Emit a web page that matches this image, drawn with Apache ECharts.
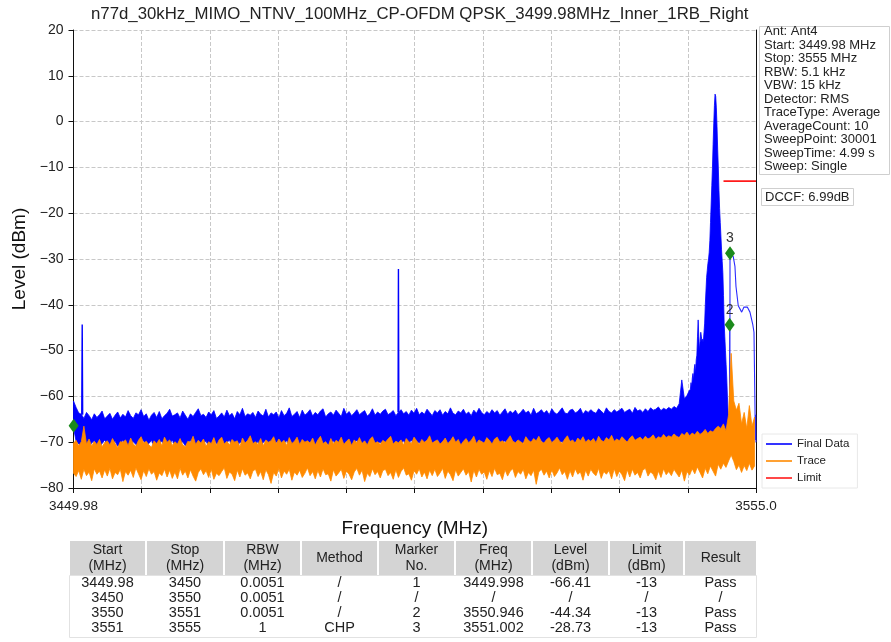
<!DOCTYPE html>
<html><head><meta charset="utf-8">
<script src="https://cdn.jsdelivr.net/npm/echarts@6/dist/echarts.min.js"></script>
<style>html,body{margin:0;padding:0;background:#fff;}#c{width:891px;height:642px;}</style>
</head><body><div id="c"></div>
<script>
// ---------------- data ----------------
const titleText = 'n77d_30kHz_MIMO_NTNV_100MHz_CP-OFDM QPSK_3499.98MHz_Inner_1RB_Right';
const xMin = 3449.98, xMax = 3555.0, xInterval = 10.502;
const xEndLabels = ['3449.98', '3555.0'];
const yMin = -80, yMax = 20, yInterval = 10;

// Final Data (blue): upper / lower edge of the dense trace, noise floor part
const floorStart = 3449.98, floorStep = 0.4;
const floorUpper = [
 -61.0,-62.4,-63.6,-63.9,-64.8,-63.5,-64.2,-65.1,-63.8,-64.6,
 -64.0,-63.2,-64.9,-64.3,-63.7,-65.0,-64.1,-63.4,-64.7,-63.9,
 -64.5,-63.1,-64.2,-64.8,-63.6,-64.0,-62.9,-64.4,-63.8,-65.2,
 -64.1,-63.5,-64.6,-63.3,-64.9,-64.2,-63.7,-62.8,-64.3,-64.0,
 -63.6,-64.7,-63.2,-64.1,-65.0,-63.8,-64.4,-63.5,-62.7,-64.2,
 -63.9,-64.6,-63.4,-64.0,-63.1,-64.8,-64.3,-63.6,-64.5,-63.0,
 -64.2,-63.7,-64.9,-63.3,-64.0,-62.6,-64.4,-63.8,-64.1,-63.5,
 -64.6,-63.2,-63.9,-64.3,-62.8,-64.5,-63.6,-64.0,-63.4,-64.7,
 -63.1,-64.2,-63.7,-62.5,-64.4,-63.9,-63.3,-64.6,-63.0,-64.1,
 -63.6,-62.9,-64.3,-63.5,-64.0,-63.2,-62.7,-64.5,-63.8,-63.4,
 -64.1,-63.0,-63.7,-64.4,-62.6,-63.9,-63.3,-64.2,-63.6,-62.9,
 -64.0,-63.5,-63.1,-64.3,-63.8,-62.7,-64.1,-63.4,-63.9,-63.2,
 -62.8,-64.0,-63.6,-63.1,-64.2,-63.5,-62.9,-63.8,-63.3,-64.1,
 -63.0,-63.7,-62.6,-64.0,-63.4,-63.9,-62.8,-63.5,-64.2,-63.1,
 -63.6,-62.9,-64.1,-63.3,-63.8,-62.5,-63.7,-64.0,-63.2,-63.6,
 -62.8,-63.9,-63.4,-64.2,-63.0,-63.7,-62.6,-63.5,-64.0,-63.3,
 -63.8,-62.9,-63.6,-63.1,-64.1,-63.4,-62.7,-63.9,-63.2,-63.7,
 -63.0,-64.0,-63.5,-62.8,-63.6,-63.2,-64.1,-62.6,-63.8,-63.4,
 -62.9,-63.7,-63.1,-64.0,-62.7,-63.5,-63.9,-63.2,-62.5,-63.6,
 -63.8,-63.0,-62.8,-63.6,-63.3,-62.6,-63.9,-63.1,-63.5,-62.9,
 -63.4,-63.7,-62.7,-63.2,-63.8,-62.5,-63.3,-63.6,-62.9,-63.4,
 -63.0,-62.6,-63.5,-63.1,-62.8,-63.7,-62.4,-63.2,-62.9,-63.5,
 -62.7,-63.3,-62.5,-63.0,-62.8,-62.3,-63.1,-62.6,-62.9,-62.4,
 -62.8,-62.2,-62.6,-61.6,-56.4,-60.5,-59.8,-58.6
];
const floorLower = [
 -66.8,-69.8,-70.4,-70.9,-69.6,-70.7,-71.2,-70.1,-69.7,-70.8,
 -71.0,-70.3,-69.5,-70.6,-71.3,-70.0,-69.8,-70.9,-70.4,-69.6,
 -70.7,-71.1,-70.2,-69.9,-70.5,-71.4,-70.1,-69.7,-70.8,-70.3,
 -69.6,-70.9,-71.2,-70.0,-69.8,-70.6,-71.0,-70.4,-69.5,-70.7,
 -71.3,-70.2,-69.9,-70.8,-70.1,-69.6,-71.1,-70.5,-69.8,-70.9,
 -70.3,-69.7,-71.0,-70.6,-69.9,-70.2,-71.4,-69.8,-70.5,-70.0,
 -69.6,-70.8,-70.3,-71.2,-69.9,-70.4,-70.7,-69.7,-71.0,-70.1,
 -70.5,-69.8,-71.1,-70.0,-69.6,-70.9,-70.2,-71.3,-69.9,-70.4,
 -70.8,-70.1,-69.7,-70.6,-71.0,-69.8,-70.3,-70.9,-69.6,-70.5,
 -71.2,-69.9,-70.4,-70.7,-69.5,-70.2,-71.0,-69.8,-70.6,-70.1,
 -69.7,-70.8,-70.3,-69.6,-71.1,-70.0,-69.9,-70.7,-70.4,-69.5,
 -70.9,-70.2,-69.8,-71.2,-70.1,-69.7,-70.6,-70.3,-69.9,-70.8,
 -70.0,-69.6,-70.5,-71.0,-69.8,-70.4,-70.1,-69.7,-70.9,-70.2,
 -69.5,-70.7,-70.3,-69.9,-71.1,-70.0,-69.6,-70.8,-70.2,-69.8,
 -70.6,-71.0,-69.7,-70.3,-70.9,-69.5,-70.4,-70.1,-69.8,-70.7,
 -70.2,-69.6,-70.8,-70.0,-69.9,-71.2,-70.3,-69.7,-70.5,-70.1,
 -69.8,-70.6,-70.2,-69.5,-70.9,-70.0,-69.7,-70.4,-71.0,-69.9,
 -70.3,-69.8,-70.7,-70.1,-69.6,-70.5,-70.0,-69.9,-70.8,-70.2,
 -69.7,-70.4,-69.9,-70.6,-70.1,-69.5,-70.3,-70.0,-69.8,-70.7,
 -70.2,-69.6,-70.5,-69.9,-70.0,-70.8,-69.7,-70.3,-69.5,-70.1,
 -69.9,-70.4,-69.6,-70.2,-69.8,-70.6,-69.5,-70.0,-70.3,-69.7,
 -70.1,-69.5,-70.0,-69.8,-70.4,-69.6,-69.9,-70.2,-69.4,-69.8,
 -69.6,-70.0,-69.3,-69.7,-69.9,-69.4,-69.8,-69.2,-69.6,-69.5,
 -69.3,-69.0,-69.4,-68.8,-69.2,-68.6,-69.0,-68.7
];
// Final Data (blue): carrier region, finer steps
const peakStart = 3544.9, peakStep = 0.1;
const peakUpper = [
 -58.5,-57,-58,-56,-55,-56.5,-54,-53,-55,-52,
 -51,-47,-43.3,-47,-50,-48,-46,-47,-48,-47.5,
 -48,-46,-44,-40,-37,-34,-32.5,-31,-30,-28.5,
 -26,-22,-18,-14,-10,-5,-0.5,3.5,6.0,5.5,
 3,-1,-6,-10,-15,-19,-22,-25,-28,-30.5,
 -33,-38,-44,-47,-50,-53,-56,-60,-63,-65,
 -67
];
const peakLower = [
 -68.5,-69.2,-68.0,-69.6,-68.4,-69.0,-68.7,-69.4,-68.2,-69.1,
 -68.8,-69.5,-68.3,-69.0,-68.6,-69.3,-68.1,-68.9,-69.4,-68.5,
 -69.0,-68.2,-68.8,-69.3,-68.4,-69.1,-68.7,-68.0,-69.2,-68.6,
 -68.9,-68.3,-69.0,-68.5,-68.8,-68.1,-69.1,-68.4,-68.7,-68.2,
 -68.9,-68.5,-69.2,-68.3,-68.8,-69.0,-68.4,-68.9,-68.6,-69.3,
 -68.7,-69.1,-68.5,-69.4,-68.8,-69.2,-69.6,-69.0,-69.8,-69.4,
 -70.0
];
// Final Data (blue): narrow spurs
const spurFreq  = [3451.25, 3451.32, 3451.39, null, 3499.92, 3499.98, 3500.04];
const spurLevel = [-64.0, -44.3, -64.0, null, -63.5, -32.2, -63.5];
// Final Data (blue): marker 2 spike and CHP segment (RBW 1 MHz)
const chpFreq  = [3550.92,3550.946,3550.975,3551.002,3551.50,3551.76,3551.92,3552.27,3552.80,3553.15,3553.66,3554.07,3554.49,3554.69,3554.85,3554.90,3554.95,3555.0];
const chpLevel = [-69.5,-44.34,-69.5,-28.73,-29.5,-31.6,-36.0,-40.2,-41.6,-40.5,-40.5,-41.6,-44.2,-46.0,-63.0,-69.5,-64.0,-70.0];

// Trace (orange): upper / lower edge
const traceStart = 3449.98, traceStep = 0.4;
const traceUpper = [
 -70.2,-69.6,-70.8,-69.9,-66.5,-70.4,-69.3,-70.9,-69.8,-70.5,
 -69.4,-71.0,-70.1,-69.7,-70.6,-69.2,-70.3,-71.2,-69.9,-70.0,
 -69.5,-70.7,-69.1,-70.4,-70.9,-69.6,-68.8,-70.2,-69.8,-70.6,
 -71.1,-69.7,-70.3,-69.4,-70.8,-68.9,-70.0,-69.5,-70.7,-69.9,
 -70.4,-69.2,-70.6,-71.0,-69.8,-70.1,-68.7,-70.5,-69.6,-70.2,
 -69.3,-70.9,-69.9,-70.3,-69.0,-70.7,-69.5,-68.9,-70.4,-69.8,
 -70.6,-69.4,-70.0,-69.7,-71.0,-69.1,-70.2,-69.6,-68.6,-70.3,
 -69.9,-70.5,-69.2,-70.8,-69.5,-70.0,-69.7,-68.8,-70.4,-69.3,
 -70.1,-69.6,-70.7,-69.0,-70.3,-69.8,-68.9,-70.5,-69.4,-70.0,
 -69.7,-70.2,-69.1,-70.6,-69.5,-68.7,-70.3,-69.9,-70.8,-69.2,
 -70.4,-69.6,-70.0,-68.9,-70.5,-69.8,-69.3,-70.7,-69.5,-70.1,
 -69.0,-70.3,-69.7,-70.6,-69.4,-68.8,-70.2,-69.9,-70.5,-69.6,
 -70.0,-69.3,-68.7,-70.4,-69.8,-70.1,-69.5,-70.6,-69.2,-69.9,
 -70.3,-68.9,-69.7,-70.5,-69.4,-70.0,-69.6,-68.6,-70.2,-69.8,
 -69.5,-70.4,-69.9,-69.1,-70.3,-69.7,-68.8,-70.0,-69.4,-70.6,
 -69.8,-69.2,-70.1,-69.6,-68.7,-70.3,-69.5,-69.9,-70.2,-69.0,
 -69.6,-70.4,-69.3,-68.9,-70.0,-69.7,-70.2,-69.4,-68.6,-69.8,
 -70.1,-69.5,-69.9,-70.3,-68.8,-69.6,-70.0,-69.2,-69.7,-68.7,
 -69.9,-70.2,-69.4,-69.0,-70.1,-69.6,-68.9,-69.8,-70.3,-69.3,
 -68.6,-69.9,-69.5,-70.2,-69.1,-69.7,-68.8,-70.0,-69.4,-69.8,
 -69.2,-70.1,-68.7,-69.6,-69.9,-69.0,-69.5,-68.5,-69.8,-69.3,
 -69.7,-68.8,-69.4,-70.0,-69.1,-68.6,-69.6,-69.2,-68.9,-69.5,
 -68.7,-69.3,-69.0,-68.4,-69.4,-68.8,-69.1,-68.3,-69.0,-68.6,
 -68.9,-68.2,-68.7,-69.0,-68.1,-68.5,-67.8,-68.6,-68.0,-68.4,
 -67.6,-68.3,-67.9,-67.2,-68.1,-67.5,-67.8,-67.0,-66.5,-67.0,
 -66.0,-67.5,-64.0,-50.6,-61.0,-63.0,-61.5,-66.0,-63.5,-67.0,
 -62.0,-66.5,-64.5
];
const traceLower = [
 -76.8,-77.5,-76.2,-78.1,-75.9,-77.3,-76.5,-78.4,-75.8,-77.0,
 -76.3,-77.8,-76.0,-77.4,-75.7,-78.0,-76.6,-77.1,-75.9,-78.6,
 -76.4,-77.2,-76.1,-77.7,-75.6,-76.9,-78.2,-76.2,-77.5,-75.8,
 -77.0,-76.4,-78.3,-76.7,-77.3,-75.9,-77.6,-76.1,-77.9,-76.5,
 -78.0,-75.7,-77.2,-76.3,-77.8,-76.0,-77.4,-78.5,-76.6,-75.8,
 -77.1,-76.2,-77.7,-75.9,-78.1,-76.8,-77.3,-76.4,-75.6,-77.9,
 -76.5,-77.0,-78.4,-76.1,-77.6,-75.8,-77.2,-76.7,-78.0,-76.3,
 -75.9,-77.5,-76.4,-78.2,-76.0,-77.1,-79.0,-76.6,-77.4,-75.7,
 -77.8,-76.3,-77.0,-75.9,-78.3,-76.5,-77.2,-76.1,-77.7,-76.8,
 -75.6,-77.3,-76.4,-78.0,-76.2,-77.6,-75.8,-77.1,-76.9,-78.5,
 -76.0,-77.4,-76.7,-75.9,-77.9,-76.3,-77.0,-78.2,-76.5,-75.7,
 -77.2,-76.1,-78.6,-76.8,-77.5,-75.8,-77.1,-76.4,-77.8,-76.2,
 -75.9,-77.3,-76.6,-78.1,-76.0,-77.7,-76.4,-75.6,-77.2,-76.9,
 -78.3,-76.2,-77.0,-75.8,-77.6,-76.5,-78.0,-76.1,-77.3,-75.9,
 -77.5,-76.7,-75.7,-77.9,-76.3,-77.1,-78.4,-76.0,-77.4,-76.6,
 -75.8,-77.2,-76.4,-78.7,-76.1,-77.6,-75.9,-77.0,-76.5,-78.1,
 -76.2,-77.5,-75.7,-77.1,-76.8,-78.2,-76.0,-77.4,-76.3,-75.8,
 -77.7,-76.4,-77.0,-75.9,-78.0,-76.6,-77.3,-76.1,-79.2,-76.5,
 -75.9,-77.2,-76.3,-77.8,-76.0,-77.5,-76.7,-75.6,-77.1,-76.4,
 -78.1,-76.2,-77.6,-75.8,-77.0,-76.5,-78.3,-76.1,-77.4,-75.9,
 -76.8,-77.3,-75.7,-77.9,-76.4,-77.0,-76.2,-78.0,-75.8,-77.5,
 -76.3,-77.1,-78.4,-76.0,-77.6,-75.9,-77.2,-76.6,-77.8,-76.1,
 -75.7,-77.4,-76.5,-77.0,-78.2,-76.3,-77.7,-75.8,-77.1,-76.4,
 -77.3,-75.9,-76.8,-77.6,-76.1,-78.5,-76.4,-77.2,-75.8,-76.9,
 -75.4,-76.6,-77.8,-75.7,-76.9,-75.2,-76.3,-77.4,-74.8,-75.9,
 -74.6,-75.5,-74.1,-72.8,-74.2,-76.0,-75.0,-76.6,-75.1,-76.2,
 -74.6,-76.1,-75.2
];

// Limit (red)
const limitFreq = [3550.0, 3555.0];
const limitLevel = [-13, -13];

// Markers
const markerNo = [1, 2, 3];
const markerFreq = [3449.998, 3550.946, 3551.002];
const markerLevel = [-66.41, -44.34, -28.73];
const markerLabel = ['', '2', '3'];

// Info box
const infoLines = ['Ant: Ant4','Start: 3449.98 MHz','Stop: 3555 MHz','RBW: 5.1 kHz','VBW: 15 kHz','Detector: RMS','TraceType: Average','AverageCount: 10','SweepPoint: 30001','SweepTime: 4.99 s','Sweep: Single'];
const dccfText = 'DCCF: 6.99dB';

// Table
const tableHeader = ['Start\n(MHz)','Stop\n(MHz)','RBW\n(MHz)','Method','Marker\nNo.','Freq\n(MHz)','Level\n(dBm)','Limit\n(dBm)','Result'];
const tableRows = [
 ['3449.98','3450','0.0051','/','1','3449.998','-66.41','-13','Pass'],
 ['3450','3550','0.0051','/','/','/','/','/','/'],
 ['3550','3551','0.0051','/','2','3550.946','-44.34','-13','Pass'],
 ['3551','3555','1','CHP','3','3551.002','-28.73','-13','Pass']
];

// ---------------- build ----------------
const FONT = '"Liberation Sans", Arial, Helvetica, sans-serif';
const BLUE = '#0000ff', ORANGE = '#ff8a00', RED = '#ff1a1a', GREEN = '#1b8a1b';
const r4 = v => Math.round(v * 10000) / 10000;
const blueX = [], blueLo = [], blueHi = [];
floorUpper.forEach((v, i) => { blueX.push(r4(floorStart + i * floorStep)); blueHi.push(v); blueLo.push(floorLower[i]); });
peakUpper.forEach((v, i) => { blueX.push(r4(peakStart + i * peakStep)); blueHi.push(v); blueLo.push(peakLower[i]); });
const traceX = traceUpper.map((v, i) => r4(traceStart + i * traceStep));
const spurData = spurFreq.map((f, i) => f === null ? '-' : [f, spurLevel[i]]);
const chpData = chpFreq.map((f, i) => [f, chpLevel[i]]);
const limitData = limitFreq.map((f, i) => [f, limitLevel[i]]);
const markers = markerFreq.map((f, i) => ({ value: [f, markerLevel[i]], name: String(markerNo[i]), label: { formatter: markerLabel[i] } }));

// dense trace drawn as the band between its upper and lower edges, through the axis scales
function bandSeries(name, xs, hi, lo, color, z) {
  return {
    type: 'custom', name, coordinateSystem: 'cartesian2d', z, silent: true, animation: false,
    itemStyle: { color },
    encode: { x: 0, y: 1 },
    data: [[xs[0], hi[0]]],
    renderItem: (params, api) => {
      const pts = [];
      for (let i = 0; i < xs.length; i++) pts.push(api.coord([xs[i], hi[i]]));
      for (let i = xs.length - 1; i >= 0; i--) pts.push(api.coord([xs[i], lo[i]]));
      return { type: 'polygon', shape: { points: pts }, style: { fill: color, stroke: color, lineWidth: 0.8 } };
    }
  };
}

const g = [];
g.push({ type: 'rect', shape: { x: 759.5, y: 26.5, width: 130, height: 148 }, style: { fill: '#fff', stroke: '#cfcfcf', lineWidth: 1 } });
g.push({ type: 'text', x: 764, y: 25, style: { text: infoLines.join('\n'), fill: '#222', font: '13px ' + FONT, lineHeight: 13.5, align: 'left', verticalAlign: 'top' } });
g.push({ type: 'rect', shape: { x: 761.5, y: 188.5, width: 92, height: 17 }, style: { fill: '#fff', stroke: '#cfcfcf', lineWidth: 1 } });
g.push({ type: 'text', x: 765, y: 197, style: { text: dccfText, fill: '#222', font: '13px ' + FONT, align: 'left', verticalAlign: 'middle' } });

const colEdges = [69, 146, 224, 301, 378, 455, 532, 609, 684, 757];
g.push({ type: 'rect', shape: { x: 69.5, y: 575.5, width: 687, height: 62 }, style: { fill: '#fff', stroke: '#e2e2e2', lineWidth: 1 } });
for (let i = 0; i < tableHeader.length; i++) {
  const x0 = colEdges[i], x1 = colEdges[i + 1], cx = (x0 + x1) / 2;
  g.push({ type: 'rect', shape: { x: x0 + 1, y: 541, width: x1 - x0 - 2, height: 34 }, style: { fill: '#d4d4d4' } });
  g.push({ type: 'text', x: cx, y: 558, style: { text: tableHeader[i], fill: '#222', font: '14px ' + FONT, lineHeight: 16, align: 'center', verticalAlign: 'middle' } });
  tableRows.forEach((row, r) => {
    g.push({ type: 'text', x: cx, y: 583 + r * 15, style: { text: row[i], fill: '#222', font: '14.5px ' + FONT, align: 'center', verticalAlign: 'middle' } });
  });
}

const chart = echarts.init(document.getElementById('c'), null, { renderer: 'canvas' });
const base = { type: 'line', symbol: 'none', showSymbol: false, sampling: null, animation: false, silent: true, emphasis: { disabled: true }, clip: true, connectNulls: false };
chart.setOption({
  animation: false,
  backgroundColor: '#fff',
  textStyle: { fontFamily: FONT },
  title: { text: titleText, left: 414.75, top: 1, textAlign: 'center', textStyle: { fontSize: 16.8, fontWeight: 'normal', color: '#222', fontFamily: FONT } },
  grid: { left: 73.5, right: 135, top: 30, bottom: 154, containLabel: false },
  legend: {
    data: [
      { name: 'Final Data', itemStyle: { color: BLUE } },
      { name: 'Trace', itemStyle: { color: ORANGE } },
      { name: 'Limit', itemStyle: { color: RED } }
    ],
    orient: 'vertical', left: 762, top: 434, icon: 'rect',
    itemWidth: 26, itemHeight: 1.6, itemGap: 5, padding: [4, 8, 4, 4],
    backgroundColor: '#fff', borderColor: '#e8e8e8', borderWidth: 1,
    textStyle: { fontSize: 11.5, color: '#222', fontFamily: FONT }, selectedMode: false
  },
  xAxis: {
    type: 'value', min: xMin, max: xMax, interval: xInterval,
    name: 'Frequency (MHz)', nameLocation: 'middle', nameGap: 31,
    nameTextStyle: { fontSize: 19, color: '#111', fontFamily: FONT },
    axisLine: { show: true, onZero: false, lineStyle: { color: '#111', width: 1 } },
    axisTick: { show: true, inside: false, length: 5, lineStyle: { color: '#111' } },
    axisLabel: {
      fontSize: 13.5, color: '#222', margin: 11, showMinLabel: true, showMaxLabel: true, hideOverlap: false,
      formatter: v => Math.abs(v - xMin) < 1e-3 ? xEndLabels[0] : (Math.abs(v - xMax) < 1e-3 ? xEndLabels[1] : '')
    },
    splitLine: { show: true, lineStyle: { color: '#c8c8c8', type: [4, 2], width: 1 } }
  },
  yAxis: [{
    type: 'value', min: yMin, max: yMax, interval: yInterval,
    name: 'Level (dBm)', nameLocation: 'middle', nameGap: 42,
    nameTextStyle: { fontSize: 19, color: '#111', fontFamily: FONT },
    axisLine: { show: true, onZero: false, lineStyle: { color: '#111', width: 1 } },
    axisTick: { show: true, inside: false, length: 5, lineStyle: { color: '#111' } },
    axisLabel: { fontSize: 14, color: '#222', margin: 10, formatter: v => v < 0 ? '\u2212' + Math.abs(v) : String(v) },
    splitLine: { show: true, lineStyle: { color: '#c8c8c8', type: [4, 2], width: 1 } }
  }, {
    type: 'value', min: yMin, max: yMax, interval: yInterval, position: 'right',
    axisLine: { show: true, onZero: false, lineStyle: { color: '#111', width: 1 } },
    axisTick: { show: false }, axisLabel: { show: false }, splitLine: { show: false }
  }],
  series: [
    bandSeries('Final Data', blueX, blueHi, blueLo, BLUE, 2),
    Object.assign({}, base, { name: 'Final Data', data: spurData, z: 2, lineStyle: { color: BLUE, width: 1.4 }, itemStyle: { color: BLUE } }),
    Object.assign({}, base, { name: 'Final Data', data: chpData, z: 2, lineStyle: { color: '#2a2aff', width: 1.1 }, itemStyle: { color: BLUE } }),
    bandSeries('Trace', traceX, traceUpper, traceLower, ORANGE, 3),
    Object.assign({}, base, { name: 'Limit', data: limitData, z: 4, lineStyle: { color: RED, width: 1.6 }, itemStyle: { color: RED } }),
    {
      type: 'scatter', name: 'Markers', data: markers, symbol: 'diamond', symbolSize: [10, 14], z: 5,
      animation: false, silent: true, itemStyle: { color: GREEN, opacity: 1 },
      label: { show: true, position: 'top', distance: 1, fontSize: 14, color: '#333', fontFamily: FONT }
    }
  ],
  graphic: g
});
</script></body></html>
